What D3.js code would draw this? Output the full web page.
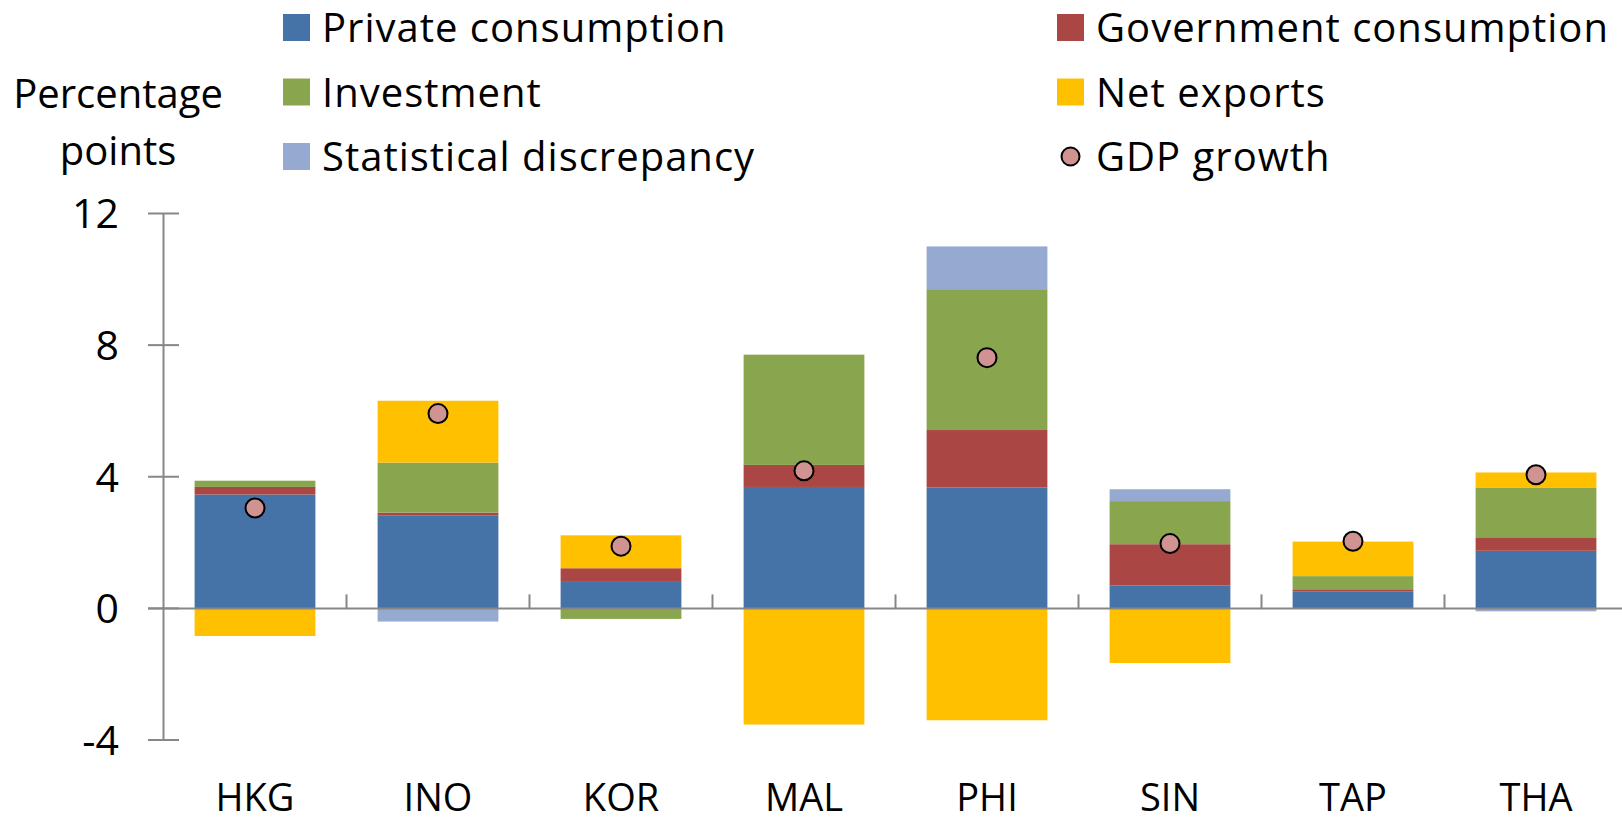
<!DOCTYPE html>
<html>
<head>
<meta charset="utf-8">
<script src="https://cdn.jsdelivr.net/npm/d3@7/dist/d3.min.js"></script>
<style>
  body { margin: 0; background: #fff; }
  text { font-family: "Open Sans", Lato, sans-serif; fill: #000; }
</style>
</head>
<body>
<script>
var width = 1622;
var height = 822;

// data
var categories = ['HKG', 'INO', 'KOR', 'MAL', 'PHI', 'SIN', 'TAP', 'THA'];
var privateCons = [3.46, 2.83, 0.83, 3.69, 3.67, 0.69, 0.52, 1.75];
var govCons = [0.23, 0.08, 0.39, 0.67, 1.75, 1.26, 0.06, 0.41];
var investment = [0.19, 1.52, -0.32, 3.35, 4.28, 1.31, 0.40, 1.50];
var netExports = [-0.84, 1.88, 1.00, -3.53, -3.40, -1.66, 1.05, 0.47];
var statDisc = [0, -0.40, 0, 0, 1.30, 0.36, 0, -0.09];
var gdpGrowth = [3.05, 5.92, 1.89, 4.18, 7.62, 1.97, 2.04, 4.06];
var yTicks = [-4, 0, 4, 8, 12];

var seriesNames = ['Private consumption', 'Government consumption', 'Investment', 'Net exports', 'Statistical discrepancy'];
var seriesKeys = ['pc', 'gc', 'inv', 'nx', 'sd'];
var colors = ['#4572a7', '#aa4643', '#89a54e', '#ffc000', '#95a9d1'];
var dotColor = '#d09391';

var rows = categories.map(function(c, i) {
  return {cat: c, pc: privateCons[i], gc: govCons[i], inv: investment[i], nx: netExports[i], sd: statDisc[i], gdp: gdpGrowth[i]};
});

var svg = d3.select('body').append('svg')
  .attr('width', width)
  .attr('height', height);

var x = d3.scaleBand()
  .domain(categories)
  .range([163.5, 163.5 + 8 * 183])
  .paddingInner(0.34)
  .paddingOuter(0.17);

var y = d3.scaleLinear()
  .domain([-4, 12])
  .range([740, 213.5]);

var stack = d3.stack()
  .keys(seriesKeys)
  .offset(d3.stackOffsetDiverging);

var layers = stack(rows);

// bars
svg.append('g').selectAll('g')
  .data(layers)
  .enter().append('g')
    .attr('fill', function(d, i) { return colors[i]; })
  .selectAll('rect')
  .data(function(d) { return d; })
  .enter().append('rect')
    .attr('x', function(d) { return x(d.data.cat); })
    .attr('width', x.bandwidth())
    .attr('y', function(d) { return y(Math.max(d[0], d[1])); })
    .attr('height', function(d) { return Math.abs(y(d[0]) - y(d[1])); });

// y axis
var axisColor = '#878787';
var yAxis = svg.append('g');
yAxis.append('line')
  .attr('x1', 163.5).attr('x2', 163.5)
  .attr('y1', y(12)).attr('y2', y(-4))
  .attr('stroke', axisColor).attr('stroke-width', 2);
yAxis.selectAll('.tick')
  .data(yTicks)
  .enter().append('line')
    .attr('x1', 148).attr('x2', 179)
    .attr('y1', function(d) { return y(d); })
    .attr('y2', function(d) { return y(d); })
    .attr('stroke', axisColor).attr('stroke-width', 2);
yAxis.selectAll('text')
  .data(yTicks)
  .enter().append('text')
    .attr('x', 119)
    .attr('y', function(d) { return y(d); })
    .attr('dy', '0.36em')
    .attr('text-anchor', 'end')
    .style('font-size', '41px')
    .text(function(d) { return d; });

// zero line + category ticks
svg.append('line')
  .attr('x1', 148).attr('x2', width)
  .attr('y1', y(0)).attr('y2', y(0))
  .attr('stroke', axisColor).attr('stroke-width', 2);
svg.append('g').selectAll('line')
  .data(categories.slice(1))
  .enter().append('line')
    .attr('x1', function(d) { return x(d) - x.step() * x.paddingInner() / 2; })
    .attr('x2', function(d) { return x(d) - x.step() * x.paddingInner() / 2; })
    .attr('y1', y(0) - 14).attr('y2', y(0))
    .attr('stroke', axisColor).attr('stroke-width', 2);

svg.append('g').selectAll('text')
  .data(categories)
  .enter().append('text')
    .attr('x', function(d) { return x(d) + x.bandwidth() / 2; })
    .attr('y', 811)
    .attr('text-anchor', 'middle')
    .style('font-size', '38px')
    .text(function(d) { return d; });

// GDP growth dots
svg.append('g').selectAll('circle')
  .data(rows)
  .enter().append('circle')
    .attr('cx', function(d) { return x(d.cat) + x.bandwidth() / 2; })
    .attr('cy', function(d) { return y(d.gdp); })
    .attr('r', 9.5)
    .attr('fill', dotColor)
    .attr('stroke', '#000')
    .attr('stroke-width', 2);

// y axis title
svg.append('text')
  .attr('x', 118).attr('y', 108)
  .attr('text-anchor', 'middle')
  .style('font-size', '40px')
  .text('Percentage');
svg.append('text')
  .attr('x', 118).attr('y', 165)
  .attr('text-anchor', 'middle')
  .style('font-size', '40px')
  .text('points');

// legend
var legendItems = [
  {name: seriesNames[0], color: colors[0], col: 0, row: 0},
  {name: seriesNames[1], color: colors[1], col: 1, row: 0},
  {name: seriesNames[2], color: colors[2], col: 0, row: 1},
  {name: seriesNames[3], color: colors[3], col: 1, row: 1},
  {name: seriesNames[4], color: colors[4], col: 0, row: 2},
  {name: 'GDP growth', color: dotColor, col: 1, row: 2, dot: true}
];
var legendX = [283, 1057];
var legend = svg.append('g').selectAll('g')
  .data(legendItems)
  .enter().append('g')
    .attr('transform', function(d) { return 'translate(' + legendX[d.col] + ',' + (14 + d.row * 64.5) + ')'; });
legend.filter(function(d) { return !d.dot; }).append('rect')
  .attr('width', 27).attr('height', 27)
  .attr('fill', function(d) { return d.color; });
legend.filter(function(d) { return d.dot; }).append('circle')
  .attr('cx', 13.5).attr('cy', 13.5).attr('r', 9)
  .attr('fill', function(d) { return d.color; })
  .attr('stroke', '#000').attr('stroke-width', 2);
legend.append('text')
  .attr('x', 39).attr('y', 28)
  .style('font-size', '40px')
  .style('letter-spacing', '1px')
  .text(function(d) { return d.name; });
</script>
</body>
</html>
